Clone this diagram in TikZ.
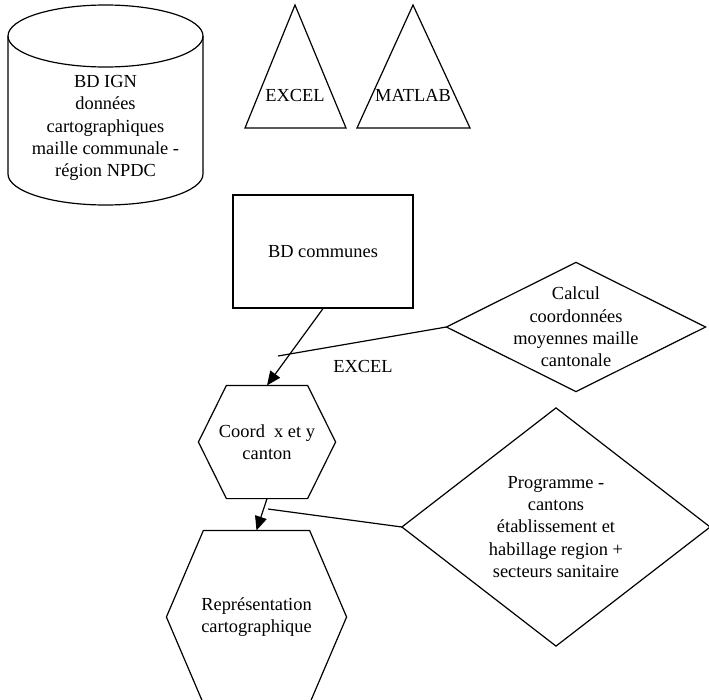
\documentclass[tikz,border=0pt]{standalone}
\usepackage{fontspec}
\setmainfont{Liberation Serif}
\usetikzlibrary{arrows.meta}

\begin{document}
\begin{tikzpicture}[x=1pt, y=-1pt, line width=1.2pt, >={Triangle[length=14pt, width=12pt]},
	every node/.style={font=\fontsize{18.4}{22.3}\selectfont, align=center, inner sep=0pt},
	boite/.style={draw, minimum width=180pt, minimum height=113pt}]
	\useasboundingbox (0,0) rectangle (709,699);

	% --- 1. BD IGN (cylindre) ---
	\draw (105.5,36) ellipse [x radius=97.5pt, y radius=31pt];
	\draw (8,36) -- (8,174) arc[start angle=180, end angle=360, x radius=97.5pt, y radius=31pt] -- (203,36);
	\node (bdign) at (105.5,128) {BD IGN\\données\\cartographiques\\maille communale -\\région NPDC};

	% --- 2. logiciels (triangles) ---
	\draw (295,5) -- (346,128) -- (245,128) -- cycle;
	\node (excel) at (295,95) {EXCEL};
	\draw (413,5) -- (470,128) -- (357,128) -- cycle;
	\node (matlab) at (413,95) {MATLAB};

	% --- 3. BD communes ---
	\node[boite] (bdcom) at (323,251.5) {BD communes};

	% --- 4. calcul (losange) ---
	\node[minimum width=258pt, minimum height=128pt] (calcul) at (576,327)
		{Calcul\\coordonnées\\moyennes maille\\cantonale};
	\draw (calcul.west) -- (calcul.north) -- (calcul.east) -- (calcul.south) -- cycle;

	% --- 5. coordonnées canton (hexagone) ---
	\node[minimum width=136pt, minimum height=112pt] (coord) at (267,442) {Coord\ \ x et y\\canton};
	\draw (coord.west) -- ([xshift=28pt]coord.north west) -- ([xshift=-28pt]coord.north east)
		-- (coord.east) -- ([xshift=-28pt]coord.south east) -- ([xshift=28pt]coord.south west) -- cycle;

	% --- 6. programme (losange) ---
	\node[minimum width=307pt, minimum height=237pt] (prog) at (556,527)
		{Programme -\\cantons\\établissement et\\habillage region +\\secteurs sanitaire};
	\draw (prog.west) -- (prog.north) -- (prog.east) -- (prog.south) -- cycle;

	% --- 7. représentation (hexagone, coupé en bas) ---
	\node[minimum width=179pt, minimum height=172pt] (repr) at (256.5,617) {Représentation\\cartographique};
	\draw (repr.west) -- ([xshift=37pt]repr.north west) -- ([xshift=-37pt]repr.north east)
		-- (repr.east) -- ([xshift=-37pt]repr.south east) -- ([xshift=37pt]repr.south west) -- cycle;

	% --- 8. liaisons ---
	\draw[->] (bdcom.south) -- (coord.north);
	\draw[->] (coord.south) -- (repr.north);
	\coordinate (c1) at (278,356);
	\draw (calcul.west) -- (c1);
	\node (lblexcel) at (363,366) {EXCEL};
	\coordinate (c2) at (268,509);
	\draw (prog.west) -- (c2);

\end{tikzpicture}
\end{document}
